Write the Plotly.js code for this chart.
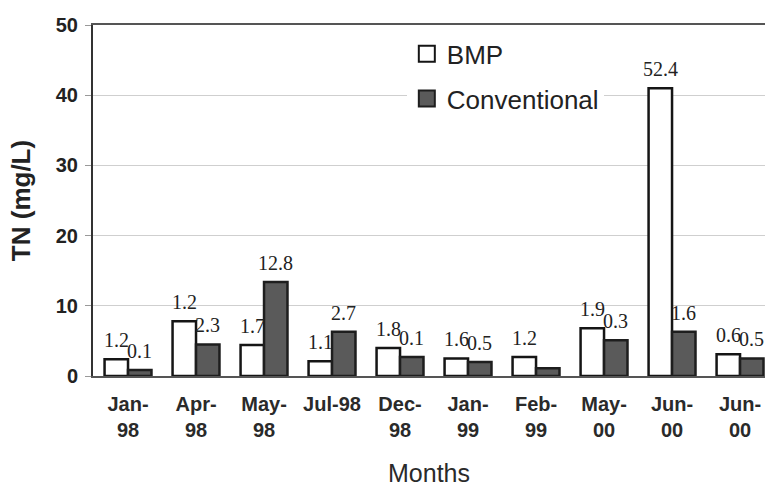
<!DOCTYPE html>
<html>
<head>
<meta charset="utf-8">
<script src="https://cdn.plot.ly/plotly-3.0.1.min.js"></script>
<style>html,body{margin:0;padding:0;background:#fff;}#chart{width:765px;height:487px;}</style>
</head>
<body>
<div id="chart"></div>
<script>
// Data
var months = ["Jan-<br>98", "Apr-<br>98", "May-<br>98", "Jul-98", "Dec-<br>98", "Jan-<br>99", "Feb-<br>99", "May-<br>00", "Jun-<br>00", "Jun-<br>00"];
var bmpValues = [2.4, 7.8, 4.4, 2.1, 4.0, 2.5, 2.7, 6.8, 41.0, 3.1];
var convValues = [0.85, 4.5, 13.4, 6.3, 2.7, 2.0, 1.1, 5.1, 6.3, 2.5];
var bmpLabels = ["1.2", "1.2", "1.7", "1.1", "1.8", "1.6", "1.2", "1.9", "52.4", "0.6"];
var convLabels = ["0.1", "2.3", "12.8", "2.7", "0.1", "0.5", "", "0.3", "1.6", "0.5"];
var yTicks = [0, 10, 20, 30, 40, 50];

var idx = months.map(function (m, i) { return i; });
var bargap = 0.31;
var off = (1 - bargap) / 4;

var traces = [
  {
    type: "bar", name: "BMP", x: idx, y: bmpValues, showlegend: false,
    marker: { color: "#ffffff", line: { color: "#151515", width: 2.5 } },
    hoverinfo: "y"
  },
  {
    type: "bar", name: "Conventional", x: idx, y: convValues, showlegend: false,
    marker: { color: "#5a5a5a", line: { color: "#1e1e1e", width: 2.5 } },
    hoverinfo: "y"
  },
  {
    type: "scatter", mode: "markers", name: "BMP", x: [null], y: [null], legendgroup: "a",
    marker: { symbol: "square", size: 16, color: "#ffffff", line: { color: "#151515", width: 2 } }
  },
  {
    type: "scatter", mode: "markers", name: "Conventional", x: [null], y: [null], legendgroup: "b",
    marker: { symbol: "square", size: 16, color: "#5a5a5a", line: { color: "#1e1e1e", width: 2 } }
  }
];

var labelFont = { family: "Liberation Serif, Times New Roman, serif", size: 20, color: "#222" };
var annotations = [];
idx.forEach(function (i) {
  if (bmpLabels[i]) annotations.push({
    x: i - off, y: bmpValues[i], xref: "x", yref: "y", text: bmpLabels[i], showarrow: false,
    yanchor: "bottom", yshift: 6, font: labelFont
  });
  if (convLabels[i]) annotations.push({
    x: i + off, y: convValues[i], xref: "x", yref: "y", text: convLabels[i], showarrow: false,
    yanchor: "bottom", yshift: 6, font: labelFont
  });
});

var layout = {
  width: 765, height: 487,
  margin: { l: 93, r: 0, t: 25, b: 111 },
  paper_bgcolor: "#ffffff", plot_bgcolor: "#ffffff",
  barmode: "group", bargap: bargap, bargroupgap: 0,
  showlegend: true,
  legend: {
    x: 0.467, y: 0.985, xanchor: "left", yanchor: "top",
    bgcolor: "#ffffff", borderwidth: 0,
    traceorder: "grouped", tracegroupgap: 8,
    font: { family: "Liberation Sans, Arial, sans-serif", size: 26, color: "#222" },
    itemsizing: "trace"
  },
  xaxis: {
    range: [-0.515, 9.367],
    tickmode: "array", tickvals: idx, ticktext: months,
    ticks: "", ticklabelstandoff: 9,
    tickfont: { family: "Liberation Sans, Arial, sans-serif", size: 20, color: "#2a2a2a", weight: "bold" },
    showgrid: false, zeroline: false,
    showline: true, linecolor: "#555555", linewidth: 2, mirror: true,
    title: { text: "Months", standoff: 24, font: { family: "Liberation Sans, Arial, sans-serif", size: 25, color: "#2a2a2a" } },
    fixedrange: true
  },
  yaxis: {
    range: [0, 50],
    tickmode: "array", tickvals: yTicks,
    ticks: "outside", ticklen: 6, tickcolor: "#999", tickwidth: 1, ticklabelstandoff: 3,
    tickfont: { family: "Liberation Sans, Arial, sans-serif", size: 20, color: "#222", weight: "bold" },
    showgrid: true, gridcolor: "#cfcfcf", gridwidth: 1.2,
    zeroline: false,
    showline: true, linecolor: "#333333", linewidth: 2,
    title: { text: "TN (mg/L)", standoff: 18, font: { family: "Liberation Sans, Arial, sans-serif", size: 26, color: "#222", weight: "bold" } },
    fixedrange: true
  },
  annotations: annotations
};

Plotly.newPlot("chart", traces, layout, { displayModeBar: false, staticPlot: true });
</script>
</body>
</html>
